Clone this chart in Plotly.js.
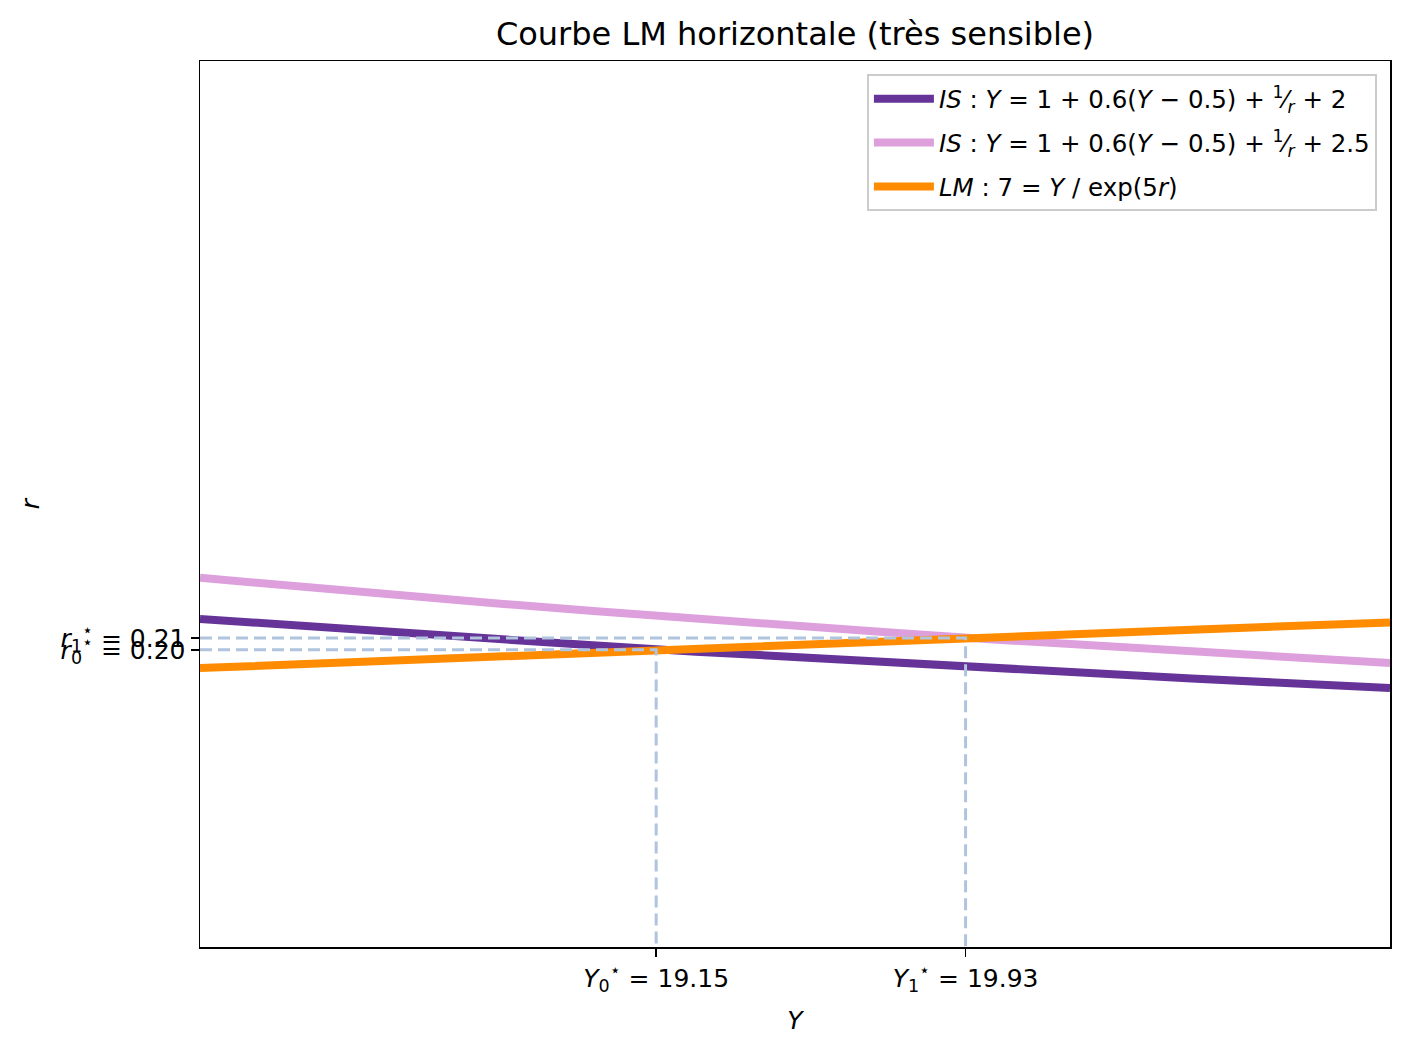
<!DOCTYPE html>
<html>
<head>
<meta charset="utf-8">
<script src="https://cdn.plot.ly/plotly-3.0.1.min.js"></script>
<style>
  body { margin: 0; background: #fff; }
  #chart { width: 1409px; height: 1055px; }
</style>
</head>
<body>
<div id="chart"></div>
<script>
// values (output Y, interest rate r)
const incomeY = [18, 18.25, 18.5, 18.75, 19, 19.25, 19.5, 19.75, 20, 20.25, 20.5, 20.75, 21];
const isBaseR = [0.2222, 0.2174, 0.2128, 0.2083, 0.2041, 0.2000, 0.1961, 0.1923, 0.1887, 0.1852, 0.1818, 0.1786, 0.1754];
const isShiftR = [0.2500, 0.2439, 0.2381, 0.2326, 0.2273, 0.2222, 0.2174, 0.2128, 0.2083, 0.2041, 0.2000, 0.1961, 0.1923];
const lmR = [0.1889, 0.1916, 0.1944, 0.1971, 0.1997, 0.2023, 0.2049, 0.2074, 0.2100, 0.2125, 0.2149, 0.2173, 0.2197];

// equilibria
const eqY = [19.15, 19.93];
const eqR = [0.2013, 0.2093];
const eqYText = ["<i>Y</i><sub>0</sub><sup>⋆</sup> = 19.15", "<i>Y</i><sub>1</sub><sup>⋆</sup> = 19.93"];
const eqRText = ["<i>r</i><sub>0</sub><sup>⋆</sup> = 0.20", "<i>r</i><sub>1</sub><sup>⋆</sup> = 0.21"];

const xRange = [18, 21];
const yRange = [0, 0.6];

let traces = [
  {
    x: incomeY, y: isBaseR, mode: "lines",
    line: { color: "#663399", width: 8 },
    legendgroup: "a",
    name: "<i>IS</i> : <i>Y</i> = 1 + 0.6(<i>Y</i> − 0.5) + <sup>1</sup>⁄<sub><i>r</i></sub> + 2",
  },
  {
    x: incomeY, y: isShiftR, mode: "lines",
    line: { color: "#dda0dd", width: 8 },
    legendgroup: "b",
    name: "<i>IS</i> : <i>Y</i> = 1 + 0.6(<i>Y</i> − 0.5) + <sup>1</sup>⁄<sub><i>r</i></sub> + 2.5",
  },
  {
    x: incomeY, y: lmR, mode: "lines",
    line: { color: "#ff8c00", width: 8 },
    legendgroup: "c",
    name: "<i>LM</i> : 7 = <i>Y</i> / exp(5<i>r</i>)",
  },
];

// dashed guides from each equilibrium to the axes
for (let i = 0; i < eqY.length; i++) {
  traces.push({
    x: [xRange[0], eqY[i], eqY[i]],
    y: [eqR[i], eqR[i], yRange[0]],
    mode: "lines",
    line: { color: "#b0c4de", width: 3, dash: "12px,6px" },
    showlegend: false,
    hoverinfo: "skip",
  });
}

const baseFont = { family: "DejaVu Sans, sans-serif", color: "#000", size: 25 };

let layout = {
  width: 1409,
  height: 1055,
  margin: { l: 200, r: 19, t: 61, b: 108 },
  paper_bgcolor: "#fff",
  plot_bgcolor: "#fff",
  font: baseFont,
  showlegend: true,
  title: {
    text: "Courbe LM horizontale (très sensible)",
    font: { family: "DejaVu Sans, sans-serif", size: 32, color: "#000" },
    x: 0.5, xref: "paper", xanchor: "center",
    y: 1 - 34 / 1055, yanchor: "middle",
  },
  xaxis: {
    range: xRange,
    tickmode: "array",
    tickvals: eqY,
    ticktext: eqYText,
    ticks: "outside", ticklen: 8, tickwidth: 1.5, tickcolor: "#000",
    showgrid: false, zeroline: false,
    showline: true, mirror: true, linecolor: "#000", linewidth: 1.5,
    tickfont: { size: 25 },
    title: { text: "<i>Y</i>", font: { size: 25 }, standoff: 16 },
  },
  yaxis: {
    range: yRange,
    tickmode: "array",
    tickvals: eqR,
    ticktext: eqRText,
    ticks: "outside", ticklen: 8, tickwidth: 1.5, tickcolor: "#000",
    showgrid: false, zeroline: false,
    showline: true, mirror: true, linecolor: "#000", linewidth: 1.5,
    tickfont: { size: 25 },
    title: { text: "<i>r</i>", font: { size: 25 }, standoff: 14 },
  },
  legend: {
    x: 0.989, y: 0.985, xanchor: "right", yanchor: "top",
    bgcolor: "rgba(255,255,255,0.8)",
    bordercolor: "#cccccc", borderwidth: 2,
    font: { size: 24.5 },
    itemwidth: 60,
    tracegroupgap: 9,
  },
};

Plotly.newPlot("chart", traces, layout, { staticPlot: true, displayModeBar: false });
</script>
</body>
</html>
